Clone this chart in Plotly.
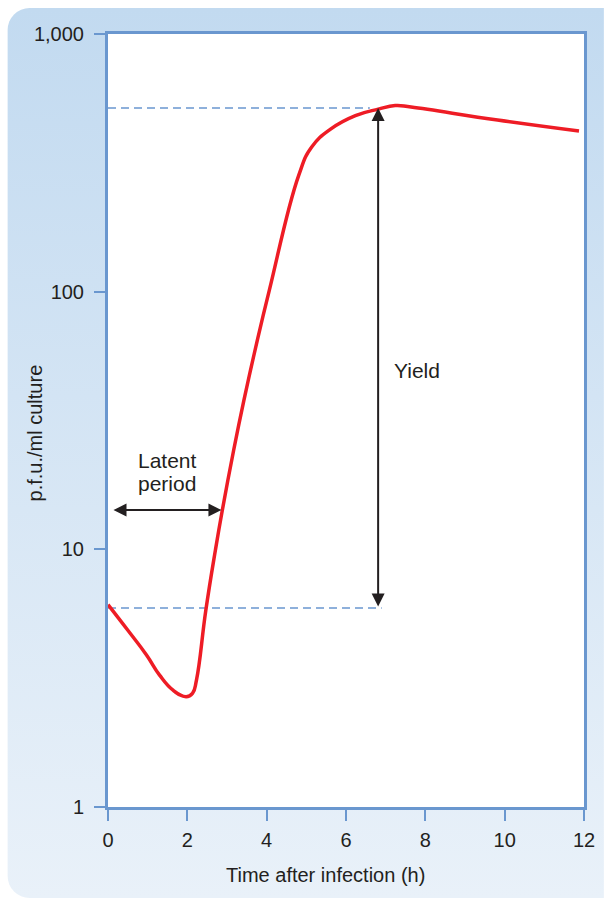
import base64
import math
import plotly.graph_objects as go

# One-step growth curve: plaque-forming units per ml of culture over time
time_h = [0.0, 0.5, 0.97, 1.30, 1.64, 1.97, 2.13, 2.23, 2.467, 2.708, 2.883, 3.169,
          3.427, 3.765, 4.068, 4.810, 5.135, 5.611, 6.237, 6.814, 7.240,
          7.640, 9.820, 11.874]
pfu_per_ml = [6.1, 4.85, 3.89, 3.25, 2.84, 2.68, 2.76, 3.11, 5.81, 9.94, 14.21, 24.3,
              37.96, 64.9, 101.4, 283.5, 364.0, 427.6, 482.4, 511.1, 527.6,
              520.5, 463.5, 420.1]

# Reference levels: titre after adsorption and final burst
low_level = 5.92
high_level = 516
low_line_end = 6.9
high_line_end = 6.6

# Arrow positions
yield_x = 6.81
latent_start, latent_end = 0.1, 2.86
latent_level = 14.2

y_tickvals = [1, 10, 100, 1000]
y_ticktext = ["1", "10", "100", "1,000"]
x_tickvals = [0, 2, 4, 6, 8, 10, 12]

AXIS_BLUE = "#6a97cf"
INK = "#231f20"
RED = "#ee1c25"
FONT = "Liberation Sans, Arial, sans-serif"

W, H = 607, 900
ML, MR, MT, MB = 108, 20, 34, 93
PW, PH = W - ML - MR, H - MT - MB

# Rounded panel with a soft vertical gradient behind the chart
svg = f"""<svg xmlns='http://www.w3.org/2000/svg' width='{W}' height='{H}' viewBox='0 0 {W} {H}'>
<defs><linearGradient id='g' x1='0' y1='0' x2='0' y2='1'>
<stop offset='0' stop-color='#c2daf0'/><stop offset='1' stop-color='#e9f1f9'/>
</linearGradient></defs>
<rect x='7' y='8' width='630' height='890' rx='22' ry='22' fill='url(#g)'/>
</svg>"""
svg_uri = "data:image/svg+xml;base64," + base64.b64encode(svg.encode()).decode()

fig = go.Figure()

fig.add_trace(go.Scatter(
    x=[0, high_line_end], y=[high_level, high_level], mode="lines",
    line=dict(color=AXIS_BLUE, width=1.5, dash="8px,5px"), hoverinfo="skip"))
fig.add_trace(go.Scatter(
    x=[0, low_line_end], y=[low_level, low_level], mode="lines",
    line=dict(color=AXIS_BLUE, width=1.5, dash="8px,5px"), hoverinfo="skip"))

fig.add_trace(go.Scatter(
    x=time_h, y=pfu_per_ml, mode="lines",
    line=dict(color=RED, width=3.5, shape="spline", smoothing=1.3)))

# Yield arrow (vertical, double-headed)
fig.add_annotation(
    x=yield_x, y=math.log10(high_level), ax=yield_x, ay=math.log10(low_level),
    xref="x", yref="y", axref="x", ayref="y", text="",
    showarrow=True, arrowhead=2, startarrowhead=2, arrowside="end+start",
    arrowsize=1.3, startarrowsize=1.3, arrowwidth=2, arrowcolor=INK)

# Latent period arrow (horizontal, double-headed)
fig.add_annotation(
    x=latent_end, y=math.log10(latent_level), ax=latent_start, ay=math.log10(latent_level),
    xref="x", yref="y", axref="x", ayref="y", text="",
    showarrow=True, arrowhead=2, startarrowhead=2, arrowside="end+start",
    arrowsize=1.3, startarrowsize=1.3, arrowwidth=2, arrowcolor=INK)

label_font = dict(family=FONT, size=21, color=INK)
fig.add_annotation(x=1.49, y=1.3465, xref="x", yref="y", text="Latent",
                   showarrow=False, font=label_font)
fig.add_annotation(x=1.49, y=1.2573, xref="x", yref="y", text="period",
                   showarrow=False, font=label_font)
fig.add_annotation(x=7.80, y=1.696, xref="x", yref="y", text="Yield",
                   showarrow=False, font=label_font)

# Axis titles
fig.add_annotation(x=(35 - ML) / PW, y=(MT + PH - 433) / PH, xref="paper", yref="paper",
                   text="p.f.u./ml culture", textangle=-90, showarrow=False,
                   xanchor="center", yanchor="middle",
                   font=dict(family=FONT, size=20, color=INK))
fig.add_annotation(x=(327 - ML) / PW, y=-(875 - (MT + PH)) / PH, xref="paper", yref="paper",
                   text="Time after infection (h)", showarrow=False,
                   xanchor="center", yanchor="middle",
                   font=dict(family=FONT, size=20, color=INK))

# White plot area above the panel background
fig.add_shape(type="rect", xref="x domain", yref="y domain", x0=0, x1=1, y0=0, y1=1,
              fillcolor="white", line=dict(width=0), layer="below")

fig.update_layout(
    width=W, height=H,
    margin=dict(l=ML, r=MR, t=MT, b=MB),
    paper_bgcolor="white", plot_bgcolor="white",
    showlegend=False,
    font=dict(family=FONT, size=20, color=INK),
    images=[dict(source=svg_uri, xref="paper", yref="paper",
                 x=-ML / PW, y=1 + MT / PH, sizex=W / PW, sizey=H / PH,
                 xanchor="left", yanchor="top", sizing="stretch", layer="below")],
)

fig.update_xaxes(
    range=[0, 12], tickvals=x_tickvals, showgrid=False, zeroline=False,
    showline=True, linecolor=AXIS_BLUE, linewidth=3, mirror=True,
    ticks="outside", ticklen=11, tickwidth=2, tickcolor=AXIS_BLUE,
    ticklabelstandoff=2,
    tickfont=dict(family=FONT, size=20, color=INK))

fig.update_yaxes(
    type="log", range=[0, 3], tickvals=y_tickvals, ticktext=y_ticktext,
    showgrid=False, zeroline=False,
    showline=True, linecolor=AXIS_BLUE, linewidth=3, mirror=True,
    ticks="outside", ticklen=11, tickwidth=2, tickcolor=AXIS_BLUE,
    ticklabelstandoff=6,
    tickfont=dict(family=FONT, size=20, color=INK))

fig.write_html("out.html")
